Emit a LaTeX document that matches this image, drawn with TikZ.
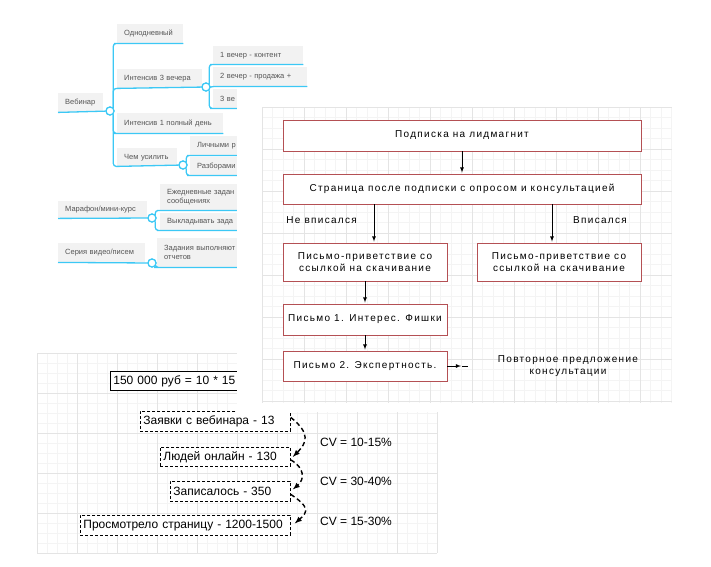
\documentclass[tikz,border=0pt]{standalone}
\usepackage{fontspec}
\setmainfont{Liberation Sans}
\newfontfamily\flowfont[LetterSpace=13]{Liberation Sans}
\usetikzlibrary{arrows,positioning}

\definecolor{mmcyan}{RGB}{60,200,245}
\definecolor{mmfill}{RGB}{242,242,242}
\definecolor{mmtext}{RGB}{85,85,85}
\definecolor{flowred}{RGB}{180,80,84}
\definecolor{gridlo}{RGB}{244,244,244}
\definecolor{gridhi}{RGB}{228,228,228}

\tikzset{
  mm node/.style={fill=mmfill,text=mmtext,anchor=north west,align=left,
    inner xsep=7pt,inner ysep=0pt,font=\fontsize{7.5}{9}\selectfont},
  mm line/.style={mmcyan,line width=1.3pt,rounded corners=3pt},
  mm dot/.style={circle,draw=mmcyan,fill=white,line width=1.2pt,
    minimum size=8pt,inner sep=0pt},
  flow node/.style={draw=flowred,fill=white,line width=0.9pt,align=center,
    inner sep=0pt,font=\flowfont\fontsize{10}{12.5}\selectfont},
  flow text/.style={align=center,inner sep=0pt,
    font=\flowfont\fontsize{10}{12.5}\selectfont},
  cv node/.style={draw,line width=0.8pt,fill=white,anchor=north west,align=left,
    inner xsep=3pt,inner ysep=0pt,font=\fontsize{12}{14}\selectfont},
  cv label/.style={anchor=west,inner sep=0pt,font=\fontsize{12}{14}\selectfont},
  cv arrow/.style={->,line width=1.4pt,dash pattern=on 4.5pt off 3pt},
}

\begin{document}
\begin{tikzpicture}[x=1pt,y=-1pt,>=latex]
  \useasboundingbox (0,0) rectangle (711,566);

  % grid under the funnel
  \foreach \gx in {37,47,...,437} \draw[gridlo,line width=0.5pt] (\gx,353) -- (\gx,553);
  \foreach \gy in {353,363,...,553} \draw[gridlo,line width=0.5pt] (37,\gy) -- (437,\gy);
  \foreach \gx in {37,77,...,437} \draw[gridhi,line width=0.5pt] (\gx,353) -- (\gx,553);
  \foreach \gy in {353,393,...,553} \draw[gridhi,line width=0.5pt] (37,\gy) -- (437,\gy);

  % mind map
  \node[mm node,text width=31pt,minimum height=19pt] (web) at (58,93) {Вебинар};
  \node[mm node,text width=52pt,minimum height=19pt] (odn) at (117,24) {Однодневный};
  \node[mm node,text width=71pt,minimum height=19pt] (int3) at (117,69) {Интенсив 3 вечера};
  \node[mm node,text width=92pt,minimum height=20pt] (int1) at (117,113) {Интенсив 1 полный день};
  \node[mm node,text width=46pt,minimum height=18pt] (usil) at (117,148) {Чем усилить};
  \node[mm node,text width=76pt,minimum height=18pt] (ev1) at (213,46) {1 вечер - контент};
  \node[mm node,text width=80pt,minimum height=19pt] (ev2) at (213,67) {2 вечер - продажа +};
  \node[mm node,text width=46pt,minimum height=19pt] (ev3) at (213,89) {3 ве};
  \node[mm node,text width=60pt,minimum height=19pt] (lich) at (190,136) {Личными р};
  \node[mm node,text width=60pt,minimum height=18pt] (razb) at (190,157) {Разборами};
  \node[mm node,text width=75pt,minimum height=17pt] (mar) at (58,201) {Марафон/мини-курс};
  \node[mm node,text width=70pt,minimum height=26pt] (ezh) at (160,184) {Ежедневные задан\\сообщениях};
  \node[mm node,text width=70pt,minimum height=17pt] (vykl) at (160,213) {Выкладывать зада};
  \node[mm node,text width=73pt,minimum height=19pt] (ser) at (58,243) {Серия видео/писем};
  \node[mm node,text width=75pt,minimum height=29pt] (zad) at (157,238) {Задания выполняют\\отчетов};

  \node[mm dot] (webd) at (110,111) {};
  \node[mm dot] (int3d) at (206,87) {};
  \node[mm dot] (usild) at (183,165) {};
  \node[mm dot] (mard) at (152,218) {};
  \node[mm dot] (serd) at (152,263) {};

  \draw[mm line] (web.south west) -- (webd);
  \draw[mm line] (int3.south west) -- (int3d);
  \draw[mm line] (usil.south west) -- (usild);
  \draw[mm line] (mar.south west) -- (mard);
  \draw[mm line] (ser.south west) -- (serd);
  \draw[mm line] (webd.north east) |- (odn.south west) -- (odn.south east);
  \draw[mm line] (webd.north east) |- (int3.south west);
  \draw[mm line] (webd.south east) |- (int1.south west) -- (int1.south east);
  \draw[mm line] (webd.south east) |- (usil.south west);
  \draw[mm line] (int3d.north east) |- (ev1.south west) -- (ev1.south east);
  \draw[mm line] (int3d.east) -- (ev2.south west) -- (ev2.south east);
  \draw[mm line] (int3d.south east) |- (ev3.south west) -- (ev3.south east);
  \draw[mm line] (usild.north east) |- (lich.south west) -- (lich.south east);
  \draw[mm line] (usild.south east) |- (razb.south west) -- (razb.south east);
  \draw[mm line] (mard.north east) |- (ezh.south west) -- (ezh.south east);
  \draw[mm line] (mard.south east) |- (vykl.south west) -- (vykl.south east);
  \draw[mm line] (serd.south east) |- (zad.south west) -- (zad.south east);
  \foreach \d in {webd,int3d,usild,mard,serd}
    \node[mm dot] at (\d) {};

  % funnel
  \node[cv node,text width=154pt,minimum height=19pt] (sum) at (110,371) {150 000 руб = 10 * 15 0};
  \node[cv node,dash pattern=on 3pt off 2pt,text width=144pt,minimum height=20pt] (z1) at (140,411) {Заявки с вебинара - 13};
  \node[cv node,dash pattern=on 3pt off 2pt,text width=124pt,minimum height=19pt] (z2) at (160,447) {Людей онлайн - 130};
  \node[cv node,dash pattern=on 3pt off 2pt,text width=114pt,minimum height=20pt] (z3) at (170,481) {Записалось - 350};
  \node[cv node,dash pattern=on 3pt off 2pt,text width=204pt,minimum height=20pt] (z4) at (80,515) {Просмотрело страницу - 1200-1500};

  \draw[cv arrow] ([yshift=4pt]z1.east) .. controls +(20,16) and +(14,-14) .. ([xshift=2pt]z2.east);
  \draw[cv arrow] ([yshift=-3pt]z2.east) .. controls +(14,8) and +(12,-10) .. ([xshift=2pt,yshift=2pt]z3.east);
  \draw[cv arrow] ([yshift=-3pt]z3.east) .. controls +(18,12) and +(14,-12) .. ([xshift=4pt,yshift=2pt]z4.east);

  \node[cv label] (cv1) at (320,442) {CV = 10-15\%};
  \node[cv label] (cv2) at (320,481) {CV = 30-40\%};
  \node[cv label] (cv3) at (320,521) {CV = 15-30\%};

  % flow sheet on top
  \fill[white] (237,88) rectangle (672,412);
  \foreach \gx in {262,272.5,...,672} \draw[gridlo,line width=0.5pt] (\gx,107) -- (\gx,403);
  \foreach \gy in {107,117.5,...,403} \draw[gridlo,line width=0.5pt] (262,\gy) -- (672,\gy);
  \foreach \gx in {262,304,...,672} \draw[gridhi,line width=0.5pt] (\gx,107) -- (\gx,403);
  \foreach \gy in {107,149,...,403} \draw[gridhi,line width=0.5pt] (262,\gy) -- (672,\gy);

  \node[flow node,minimum width=358pt,minimum height=31pt] (lid) at (462,135.5) {Подписка на лидмагнит};
  \node[flow node,minimum width=358pt,minimum height=30pt] (page) at (462,189) {Страница после подписки с опросом и консультацией};
  \node[flow node,minimum width=164pt,minimum height=38pt] (left1) at (365,262) {Письмо-приветствие со\\ссылкой на скачивание};
  \node[flow node,minimum width=164pt,minimum height=38pt] (right1) at (559,262) {Письмо-приветствие со\\ссылкой на скачивание};
  \node[flow node,minimum width=164pt,minimum height=31pt] (p1) at (365,319.5) {Письмо 1. Интерес. Фишки};
  \node[flow node,minimum width=164pt,minimum height=30pt] (p2) at (365,366) {Письмо 2. Экспертность.};
  \node[flow text] (offer) at (568,366) {Повторное предложение\\консультации};
  \node[flow text,anchor=east] (nofit) at (357,220) {Не вписался};
  \node[flow text,anchor=west] (fit) at (573,220) {Вписался};
  \coordinate (offtip) at (462,366);

  \path[->,shorten >=1pt,line width=0.8pt]
    (lid) edge (page)
    ([xshift=9pt]left1.north |- page.south) edge ([xshift=9pt]left1.north)
    ([xshift=-7pt]right1.north |- page.south) edge ([xshift=-7pt]right1.north)
    (left1) edge (p1)
    (p1) edge (p2)
    (p2) edge (offtip);
  \draw[line width=0.8pt] (offtip) -- ++(6,0);
\end{tikzpicture}
\end{document}
